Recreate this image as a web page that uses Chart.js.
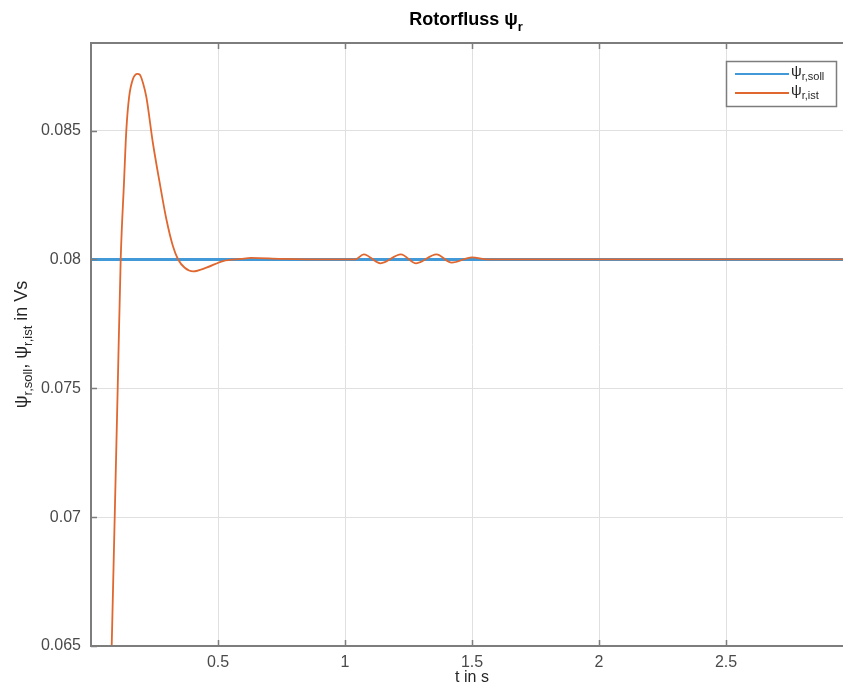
<!DOCTYPE html>
<html>
<head>
<meta charset="utf-8">
<script src="https://cdn.jsdelivr.net/npm/chart.js@4"></script>
<style>
  html, body { margin: 0; padding: 0; background: #fff; overflow: hidden; }
  #wrap { width: 843px; height: 686px; overflow: hidden; }
</style>
</head>
<body>
<div id="wrap"><canvas id="flux" width="870" height="686"></canvas></div>
<script>
// values
const tIst = [0.0815, 0.0933, 0.1051, 0.1169, 0.130, 0.139, 0.150, 0.165, 0.183, 0.192, 0.205, 0.218, 0.244, 0.270, 0.297, 0.323, 0.343, 0.369, 0.402, 0.454, 0.52, 0.59, 0.63, 0.75, 1.0, 1.04, 1.074, 1.14, 1.22, 1.28, 1.36, 1.42, 1.50, 1.56, 3.0];
const psiIst = [0.065, 0.070, 0.075, 0.080, 0.0830, 0.0850, 0.0863, 0.0870, 0.0872, 0.08717, 0.08684, 0.0863, 0.0845, 0.0830, 0.08155, 0.0805, 0.0800, 0.07968, 0.07954, 0.07968, 0.07994, 0.08002, 0.08006, 0.08002, 0.08, 0.08, 0.0802, 0.07985, 0.0802, 0.07985, 0.0802, 0.07988, 0.08008, 0.08, 0.08];
const tSoll = [0, 3];
const psiSoll = [0.08, 0.08];
const xTicks = [0.5, 1, 1.5, 2, 2.5];
const yTicks = [0.065, 0.07, 0.075, 0.08, 0.085];

const blue = "#4199d8";
const orange = "#e0672f";
const axisGray = "#7d7d7d";
const fontFam = '"Liberation Sans", Arial, sans-serif';

// text with a subscript, returns new x
function subText(ctx, x, y, main, sub, size, subSize, drop) {
  ctx.font = size + "px " + fontFam;
  ctx.fillText(main, x, y);
  x += ctx.measureText(main).width;
  if (sub) {
    ctx.font = subSize + "px " + fontFam;
    ctx.fillText(sub, x, y + drop);
    x += ctx.measureText(sub).width;
  }
  return x;
}

function measureParts(ctx, parts, size, subSize) {
  let w = 0;
  parts.forEach((p) => {
    ctx.font = size + "px " + fontFam;
    w += ctx.measureText(p[0]).width;
    if (p[1]) {
      ctx.font = subSize + "px " + fontFam;
      w += ctx.measureText(p[1]).width;
    }
  });
  return w;
}

const decorations = {
  id: "decorations",
  afterDraw(chart) {
    const { ctx, chartArea: a, scales } = chart;
    const x = scales.x, y = scales.y;
    ctx.save();

    // box
    ctx.strokeStyle = axisGray;
    ctx.lineWidth = 2;
    ctx.strokeRect(a.left, a.top, a.right - a.left, a.bottom - a.top);

    // inward ticks
    ctx.lineWidth = 1.5;
    ctx.beginPath();
    xTicks.forEach((v) => {
      const px = Math.round(x.getPixelForValue(v)) + 0.5;
      ctx.moveTo(px, a.bottom); ctx.lineTo(px, a.bottom - 6);
      ctx.moveTo(px, a.top); ctx.lineTo(px, a.top + 6);
    });
    yTicks.forEach((v) => {
      const py = Math.round(y.getPixelForValue(v)) + 0.5;
      ctx.moveTo(a.left, py); ctx.lineTo(a.left + 6, py);
    });
    ctx.stroke();

    // title
    ctx.fillStyle = "#000";
    ctx.textBaseline = "alphabetic";
    ctx.font = "bold 18px " + fontFam;
    const tMain = "Rotorfluss ψ";
    const wMain = ctx.measureText(tMain).width;
    ctx.font = "bold 13px " + fontFam;
    const wSub = ctx.measureText("r").width;
    let tx = 466 - (wMain + wSub) / 2;
    ctx.font = "bold 18px " + fontFam;
    ctx.fillText(tMain, tx, 25);
    ctx.font = "bold 13px " + fontFam;
    ctx.fillText("r", tx + wMain, 31);

    // x label
    ctx.fillStyle = "#262626";
    ctx.font = "16px " + fontFam;
    ctx.textAlign = "center";
    ctx.fillText("t in s", 472, 682);
    ctx.textAlign = "left";

    // y label
    const yParts = [["ψ", "r,soll"], [", ", ""], ["ψ", "r,ist"], [" in Vs", ""]];
    ctx.save();
    ctx.translate(27, (a.top + a.bottom) / 2);
    ctx.rotate(-Math.PI / 2);
    let lx = -measureParts(ctx, yParts, 18, 13) / 2;
    yParts.forEach((p) => { lx = subText(ctx, lx, 0, p[0], p[1], 18, 13, 5); });
    ctx.restore();

    // legend
    const lg = { left: 726.5, top: 61.5, w: 110, h: 45 };
    ctx.fillStyle = "#fff";
    ctx.fillRect(lg.left, lg.top, lg.w, lg.h);
    ctx.strokeStyle = axisGray;
    ctx.lineWidth = 1.5;
    ctx.strokeRect(lg.left, lg.top, lg.w, lg.h);
    const entries = [[blue, "r,soll", 74], [orange, "r,ist", 93]];
    entries.forEach((e) => {
      ctx.strokeStyle = e[0];
      ctx.lineWidth = 1.8;
      ctx.beginPath();
      ctx.moveTo(735, e[2]); ctx.lineTo(789, e[2]);
      ctx.stroke();
      ctx.fillStyle = "#262626";
      subText(ctx, 791, e[2] + 2, "ψ", e[1], 15, 11, 4);
    });

    ctx.restore();
  }
};

new Chart(document.getElementById("flux"), {
  type: "line",
  data: {
    datasets: [
      {
        label: "ψr,ist",
        data: tIst.map((t, i) => ({ x: t, y: psiIst[i] })),
        borderColor: orange,
        borderWidth: 1.8,
        pointRadius: 0,
        cubicInterpolationMode: "monotone"
      },
      {
        label: "ψr,soll",
        data: tSoll.map((t, i) => ({ x: t, y: psiSoll[i] })),
        borderColor: blue,
        borderWidth: 3,
        pointRadius: 0
      }
    ]
  },
  options: {
    responsive: false,
    animation: false,
    layout: { padding: { top: 43, right: 17, left: 0, bottom: 0 } },
    plugins: { legend: { display: false }, tooltip: { enabled: false } },
    scales: {
      x: {
        type: "linear",
        min: 0,
        max: 3,
        afterBuildTicks: (s) => { s.ticks = xTicks.map((v) => ({ value: v })); },
        afterFit: (s) => { s.height = 40; },
        grid: { color: "#e0e0e0", lineWidth: 1, drawTicks: false },
        border: { display: false },
        ticks: {
          color: "#4a4a4a",
          font: { size: 16, family: fontFam },
          padding: 7,
          maxRotation: 0,
          callback: (v) => String(v)
        }
      },
      y: {
        min: 0.065,
        max: 0.0884,
        afterBuildTicks: (s) => { s.ticks = yTicks.map((v) => ({ value: v })); },
        afterFit: (s) => { s.width = 91; },
        grid: { color: "#e0e0e0", lineWidth: 1, drawTicks: false },
        border: { display: false },
        ticks: {
          color: "#4a4a4a",
          font: { size: 16, family: fontFam },
          padding: 10,
          callback: (v) => String(v)
        }
      }
    }
  },
  plugins: [decorations]
});
</script>
</body>
</html>
